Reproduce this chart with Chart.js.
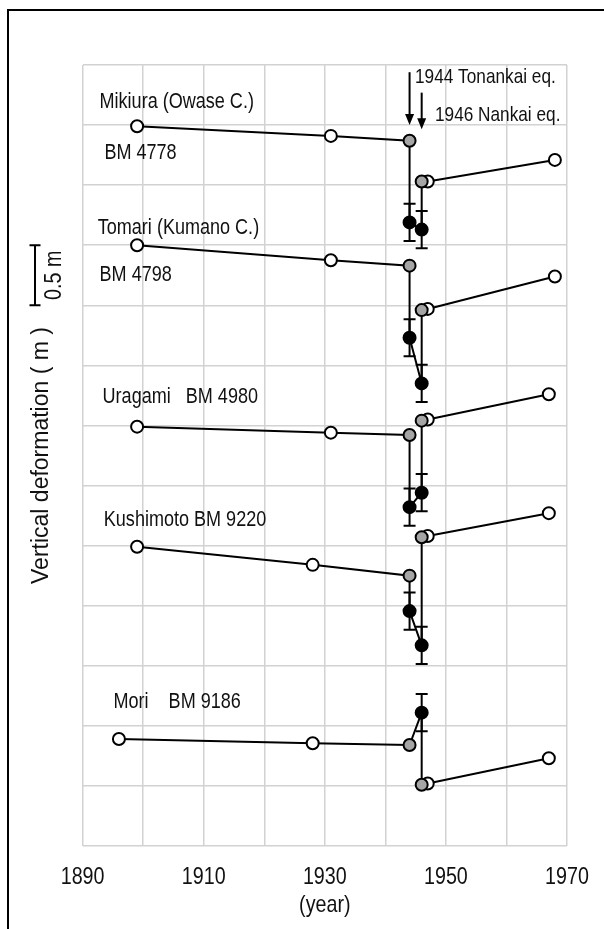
<!DOCTYPE html>
<html>
<head>
<meta charset="utf-8">
<script src="https://cdn.jsdelivr.net/npm/chart.js@4/dist/chart.umd.min.js"></script>
<style>
html,body{margin:0;padding:0;background:#fff;}
#wrap{width:604px;height:929px;position:relative;}
</style>
</head>
<body>
<div id="wrap"><canvas id="c" width="604" height="929"></canvas></div>
<script>
// ---- tick labels ----
const xTickLabels = [1890, 1910, 1930, 1950, 1970];

// ---- station series (year, vertical position in m, marker kind, error in m) ----
const mikiuraYears  = [1899, 1931, 1944, 1944, 1946, 1946, 1947, 1968];
const mikiuraValues = [5.99, 5.91, 5.87, 5.19, 5.13, 5.53, 5.53, 5.71];
const mikiuraKinds  = ['open','open','gray','black','black','gray','open','open'];
const mikiuraErrors = [null, null, null, 0.155, 0.155, null, null, null];

const tomariYears  = [1899, 1931, 1944, 1944, 1946, 1946, 1947, 1968];
const tomariValues = [5.00, 4.875, 4.83, 4.23, 3.85, 4.46, 4.47, 4.74];
const tomariKinds  = ['open','open','gray','black','black','gray','open','open'];
const tomariErrors = [null, null, null, 0.155, 0.155, null, null, null];

const uragamiYears  = [1899, 1931, 1944, 1944, 1946, 1946, 1947, 1967];
const uragamiValues = [3.49, 3.44, 3.42, 2.82, 2.94, 3.54, 3.55, 3.76];
const uragamiKinds  = ['open','open','gray','black','black','gray','open','open'];
const uragamiErrors = [null, null, null, 0.155, 0.155, null, null, null];

const kushimotoYears  = [1899, 1928, 1944, 1944, 1946, 1946, 1947, 1967];
const kushimotoValues = [2.49, 2.34, 2.25, 1.955, 1.67, 2.57, 2.58, 2.77];
const kushimotoKinds  = ['open','open','gray','black','black','gray','open','open'];
const kushimotoErrors = [null, null, null, 0.155, 0.155, null, null, null];

const moriYears  = [1896, 1928, 1944, 1946, 1946, 1947, 1967];
const moriValues = [0.89, 0.855, 0.84, 1.11, 0.51, 0.52, 0.73];
const moriKinds  = ['open','open','gray','black','gray','open','open'];
const moriErrors = [null, null, null, 0.155, null, null, null];

const stationLabels = ['Mikiura (Owase C.)', 'BM 4778', 'Tomari (Kumano C.)', 'BM 4798',
                       'Uragami   BM 4980', 'Kushimoto BM 9220', 'Mori    BM 9186'];
const eventLabels = ['1944 Tonankai eq.', '1946 Nankai eq.'];
const eventYears = [1944, 1946];
const scaleBarLength = 0.5;
const scaleBarLabel = '0.5 m';

// ---- build datasets ----
const stations = [
  [mikiuraYears, mikiuraValues, mikiuraKinds, mikiuraErrors],
  [tomariYears, tomariValues, tomariKinds, tomariErrors],
  [uragamiYears, uragamiValues, uragamiKinds, uragamiErrors],
  [kushimotoYears, kushimotoValues, kushimotoKinds, kushimotoErrors],
  [moriYears, moriValues, moriKinds, moriErrors]
];

const datasets = [];
stations.forEach(([ys, vs]) => {
  datasets.push({
    data: ys.map((x, i) => ({x: x, y: vs[i]})),
    showLine: true, borderColor: '#000', borderWidth: 2,
    pointRadius: 0, pointHoverRadius: 0, order: 10
  });
});
const kindStyle = {open: ['#ffffff', 3], gray: ['#a5a5a5', 2], black: ['#000000', 1]};
Object.keys(kindStyle).forEach(kind => {
  const pts = [];
  stations.forEach(([ys, vs, ks]) => ys.forEach((x, i) => { if (ks[i] === kind) pts.push({x: x, y: vs[i]}); }));
  datasets.push({
    data: pts, showLine: false,
    pointRadius: 6, pointHoverRadius: 6,
    pointBackgroundColor: kindStyle[kind][0], pointBorderColor: '#000', pointBorderWidth: 2,
    order: kindStyle[kind][1]
  });
});
const errorPoints = [];
stations.forEach(([ys, vs, ks, es]) => ys.forEach((x, i) => { if (es[i] != null) errorPoints.push([x, vs[i], es[i]]); }));

// ---- fonts: Arial Narrow look = Liberation Sans condensed horizontally ----
const NARROW = '"Arial Narrow", "Liberation Sans", Arial, sans-serif';
const REG = '"Liberation Sans", Arial, sans-serif';
const NARROW_K = 0.82;
const canvas = document.getElementById('c');
const cctx = canvas.getContext('2d');
const nativeFill = CanvasRenderingContext2D.prototype.fillText;
cctx.fillText = function (text, x, y, maxWidth) {
  if (this.font.indexOf('Arial Narrow') >= 0) {
    this.save();
    this.translate(x, y);
    this.scale(NARROW_K, 1);
    if (maxWidth !== undefined) nativeFill.call(this, text, 0, 0, maxWidth / NARROW_K);
    else nativeFill.call(this, text, 0, 0);
    this.restore();
  } else {
    nativeFill.apply(this, arguments);
  }
};

const decor = {
  id: 'decor',
  beforeDatasetsDraw(chart) {
    const ctx = chart.ctx, xs = chart.scales.x, ys = chart.scales.y;
    ctx.save();
    ctx.strokeStyle = '#000'; ctx.lineWidth = 2;
    errorPoints.forEach(([x, v, e]) => {
      const px = xs.getPixelForValue(x), t = ys.getPixelForValue(v + e), b = ys.getPixelForValue(v - e);
      ctx.beginPath();
      ctx.moveTo(px, t); ctx.lineTo(px, b);
      ctx.moveTo(px - 6, t); ctx.lineTo(px + 6, t);
      ctx.moveTo(px - 6, b); ctx.lineTo(px + 6, b);
      ctx.stroke();
    });
    ctx.restore();
  },
  afterDraw(chart) {
    const ctx = chart.ctx, xs = chart.scales.x, ys = chart.scales.y;
    ctx.save();
    // frame
    ctx.strokeStyle = '#000'; ctx.lineWidth = 2;
    ctx.beginPath(); ctx.moveTo(8, chart.height); ctx.lineTo(8, 10); ctx.lineTo(chart.width, 10); ctx.stroke();
    // event arrows
    const arrowTop = [6.44, 6.27], arrowTip = [6.0, 5.965];
    eventYears.forEach((yr, i) => {
      const px = xs.getPixelForValue(yr), t = ys.getPixelForValue(arrowTop[i]), b = ys.getPixelForValue(arrowTip[i]);
      ctx.beginPath(); ctx.moveTo(px, t); ctx.lineTo(px, b - 8); ctx.stroke();
      ctx.beginPath(); ctx.moveTo(px - 4.5, b - 11); ctx.lineTo(px + 4.5, b - 11); ctx.lineTo(px, b); ctx.closePath();
      ctx.fillStyle = '#000'; ctx.fill();
    });
    ctx.fillStyle = '#111'; ctx.textBaseline = 'middle'; ctx.textAlign = 'left';
    ctx.font = '21px ' + NARROW;
    const evPos = [[1944.9, 6.40], [1948.2, 6.08]];
    eventLabels.forEach((t, i) => ctx.fillText(t, xs.getPixelForValue(evPos[i][0]), ys.getPixelForValue(evPos[i][1])));
    // station labels
    ctx.font = '22px ' + NARROW;
    const stPos = [[1892.8, 6.19], [1893.6, 5.77], [1892.5, 5.14], [1892.8, 4.75], [1893.3, 3.735], [1893.5, 2.71], [1895.1, 1.20]];
    stationLabels.forEach((t, i) => ctx.fillText(t, xs.getPixelForValue(stPos[i][0]), ys.getPixelForValue(stPos[i][1])));
    // scale bar
    const sTop = ys.getPixelForValue(5.0), sBot = ys.getPixelForValue(5.0 - scaleBarLength), sx = 35;
    ctx.beginPath();
    ctx.moveTo(sx, sTop); ctx.lineTo(sx, sBot);
    ctx.moveTo(sx - 5.5, sTop); ctx.lineTo(sx + 5.5, sTop);
    ctx.moveTo(sx - 5.5, sBot); ctx.lineTo(sx + 5.5, sBot);
    ctx.stroke();
    ctx.translate(54, (sTop + sBot) / 2); ctx.rotate(-Math.PI / 2);
    ctx.textAlign = 'center'; ctx.font = '24px ' + NARROW;
    ctx.fillText(scaleBarLabel, 0, 0);
    ctx.restore();
  }
};

new Chart(canvas, {
  type: 'scatter',
  data: {datasets: datasets},
  options: {
    responsive: false, animation: false,
    layout: {padding: {left: 24, right: 37, top: 65, bottom: 12}},
    plugins: {legend: {display: false}, tooltip: {enabled: false}},
    scales: {
      x: {
        type: 'linear', min: 1890, max: 1970,
        grid: {color: '#d2d2d2', lineWidth: 1.5, drawTicks: false, tickLength: 0},
        border: {display: false},
        ticks: {stepSize: 10, padding: 16.6, color: '#111', maxRotation: 0, autoSkip: false,
          font: {family: NARROW, size: 24, lineHeight: 1.2},
          callback: v => xTickLabels.includes(v) ? String(v) : ''},
        title: {display: true, text: '(year)', color: '#111', padding: {top: -15, bottom: 0},
          font: {family: NARROW, size: 24, lineHeight: 1}},
        afterFit: s => { s.paddingLeft = 0; s.paddingRight = 0; }
      },
      y: {
        type: 'linear', min: 0, max: 6.5,
        grid: {color: '#d2d2d2', lineWidth: 1.5, drawTicks: false, tickLength: 0},
        border: {display: false},
        ticks: {display: false, stepSize: 0.5},
        title: {display: true, text: 'Vertical deformation ( m )', color: '#111',
          padding: {top: 4, bottom: 27}, font: {family: REG, size: 23, lineHeight: 1.2}}
      }
    }
  },
  plugins: [decor]
});
</script>
</body>
</html>
